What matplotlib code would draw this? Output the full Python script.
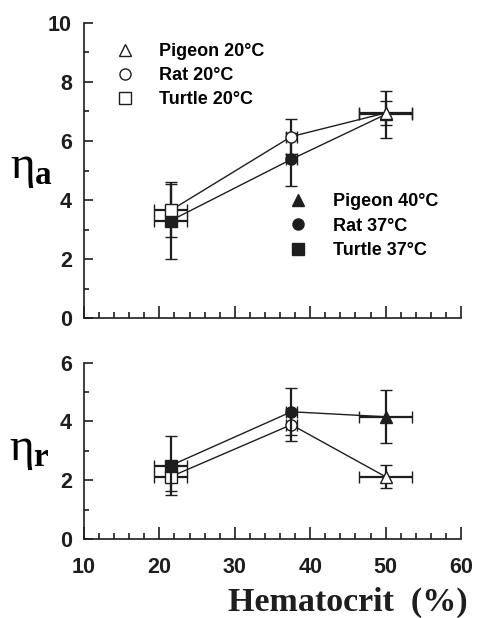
import matplotlib
matplotlib.use("Agg")
import matplotlib.pyplot as plt
from matplotlib.lines import Line2D
from matplotlib.ticker import MultipleLocator

plt.rcParams['font.family'] = ['Liberation Sans', 'DejaVu Sans']
plt.rcParams['font.weight'] = 'bold'
plt.rcParams['mathtext.fontset'] = 'custom'
plt.rcParams['mathtext.rm'] = 'Liberation Serif:weight=normal'
plt.rcParams['mathtext.it'] = 'Liberation Serif:weight=normal'
plt.rcParams['mathtext.bf'] = 'Liberation Serif:weight=bold'

# data
species = ['Turtle', 'Rat', 'Pigeon']
markers = ['s', 'o', '^']
hct = [21.5, 37.5, 50.0]
hct_err = [2.2, 0.7, 3.5]

eta_a_cold = [3.65, 6.15, 6.95]
eta_a_cold_err = [0.9, 0.6, 0.4]
eta_a_warm = [3.3, 5.38, 6.9]
eta_a_warm_err = [1.3, 0.9, 0.8]

eta_r_cold = [2.12, 3.89, 2.12]
eta_r_cold_err = [0.5, 0.55, 0.4]
eta_r_warm = [2.5, 4.33, 4.16]
eta_r_warm_err = [1.0, 0.8, 0.9]

cold_labels = ['Pigeon 20°C', 'Rat 20°C', 'Turtle 20°C']
warm_labels = ['Pigeon 40°C', 'Rat 37°C', 'Turtle 37°C']

ink = '#1e1e1e'

fig = plt.figure(figsize=(4.78, 6.18), dpi=100)
ax1 = fig.add_axes([0.1757, 0.4854, 0.7887, 0.4774])
ax2 = fig.add_axes([0.1757, 0.1278, 0.7887, 0.2853])


def draw_series(ax, y, yerr, filled, z):
    ax.plot(hct, y, color=ink, lw=1.0, zorder=z)
    for i in range(len(hct)):
        ax.errorbar(hct[i], y[i], xerr=hct_err[i], yerr=yerr[i], fmt=markers[i],
                    ms=8 if markers[i] != '^' else 9,
                    mfc=ink if filled else 'white', mec=ink, mew=1.0,
                    ecolor=ink, elinewidth=1.6, capsize=4, capthick=1.6, zorder=z)


# top: open symbols on top, bottom: filled symbols on top
draw_series(ax1, eta_a_warm, eta_a_warm_err, True, 2)
draw_series(ax1, eta_a_cold, eta_a_cold_err, False, 3)
draw_series(ax2, eta_r_cold, eta_r_cold_err, False, 2)
draw_series(ax2, eta_r_warm, eta_r_warm_err, True, 3)

for ax, ymax in [(ax1, 10), (ax2, 6)]:
    ax.set_xlim(10, 60)
    ax.set_ylim(0, ymax)
    ax.spines['top'].set_visible(False)
    ax.spines['right'].set_visible(False)
    for s in ['left', 'bottom']:
        ax.spines[s].set_linewidth(1.2)
        ax.spines[s].set_color(ink)
    ax.xaxis.set_major_locator(MultipleLocator(10))
    ax.xaxis.set_minor_locator(MultipleLocator(2))
    ax.yaxis.set_major_locator(MultipleLocator(2))
    ax.yaxis.set_minor_locator(MultipleLocator(1))
    ax.tick_params(axis='x', which='major', direction='in', length=8.6, width=1.2, pad=13,
                   labelsize=15.5, colors=ink)
    ax.tick_params(axis='x', which='minor', direction='in', length=4.3, width=1.2, colors=ink)
    ax.tick_params(axis='y', which='major', direction='in', length=6.5, width=1.2, pad=8.6,
                   labelsize=15.5, colors=ink)
    ax.tick_params(axis='y', which='minor', direction='in', length=3.6, width=1.2, colors=ink)

ax1.tick_params(axis='x', labelbottom=False)

cold_handles = [Line2D([], [], ls='none', marker=m, ms=8, mfc='white', mec=ink, mew=1.0)
                for m in ['^', 'o', 's']]
warm_handles = [Line2D([], [], ls='none', marker=m, ms=8, mfc=ink, mec=ink, mew=1.0)
                for m in ['^', 'o', 's']]

leg1 = ax1.legend(cold_handles, cold_labels, loc='upper left', bbox_to_anchor=(0.085, 0.931),
                  frameon=False, fontsize=13, handlelength=1.0, handletextpad=1.4,
                  labelspacing=0.38, borderpad=0, borderaxespad=0)
ax1.add_artist(leg1)
ax1.legend(warm_handles, warm_labels, loc='upper left', bbox_to_anchor=(0.545, 0.423),
           frameon=False, fontsize=13, handlelength=1.0, handletextpad=1.4,
           labelspacing=0.42, borderpad=0, borderaxespad=0)

fig.text(0.066, 0.728, r'$\eta_\mathbf{a}$', fontsize=34, ha='center', va='center',
         fontweight='normal')
fig.text(0.062, 0.272, r'$\eta_\mathbf{r}$', fontsize=34, ha='center', va='center',
         fontweight='normal')
fig.text(0.979, 0.011, 'Hematocrit  (%)', family='Liberation Serif', weight='bold',
         fontsize=24.5, ha='right', va='baseline', color=ink)

fig.savefig('out.png', dpi=100)
